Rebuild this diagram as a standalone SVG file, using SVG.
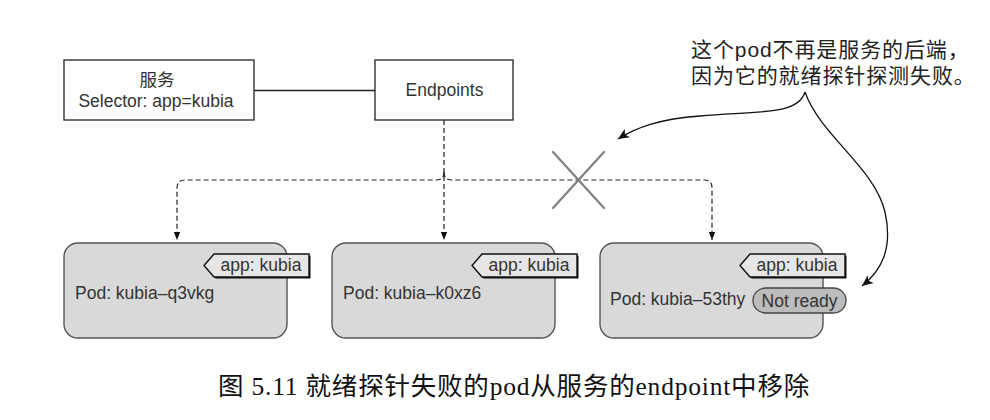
<svg xmlns="http://www.w3.org/2000/svg" width="990" height="420" viewBox="0 0 990 420">
<style>
.t{font-family:"Liberation Sans",Arial,"Noto Sans CJK SC",sans-serif;font-size:17.5px;fill:#333}
.box{fill:#fff;stroke:#222;stroke-width:1.3}
.pod{fill:#d9d9d9;stroke:#555;stroke-width:1.4}
.tag{fill:#e6e6e6;stroke:#111;stroke-width:1.4}
.tagsh{fill:#111}
.pill{fill:#bcbcbc;stroke:#444;stroke-width:1.3}
.dash{fill:none;stroke:#222;stroke-width:1.2;stroke-dasharray:5 3}
.ann{font-family:"Liberation Sans",Arial,"Noto Sans CJK SC",sans-serif;font-size:21px;letter-spacing:0.9px;fill:#222}
.cap{font-family:"Liberation Serif","Times New Roman","Noto Sans CJK SC",serif;font-size:25.5px;letter-spacing:0.8px;fill:#111}
</style>
<defs>
<marker id="ah" viewBox="0 0 8 8" refX="8" refY="4" markerWidth="8" markerHeight="8" markerUnits="userSpaceOnUse" orient="auto">
<path d="M0,0.8 L8,4 L0,7.2 Z" fill="#111"/>
</marker>
<marker id="ah2" viewBox="0 0 10 10" refX="10" refY="5" markerWidth="11" markerHeight="11" markerUnits="userSpaceOnUse" orient="auto">
<path d="M0,0.5 L10,5 L0,9.5 L2.5,5 Z" fill="#111"/>
</marker>
</defs>

<g id="service">
<rect class="box" x="64" y="60" width="190" height="60"/>
<text class="t" x="157" y="86" text-anchor="middle">服务</text>
<text class="t" x="156" y="107" text-anchor="middle">Selector: app=kubia</text>
</g>

<g id="endpoints">
<rect class="box" x="375" y="60" width="138" height="60"/>
<text class="t" x="444.5" y="96" text-anchor="middle">Endpoints</text>
</g>

<g id="pod1">
<rect class="pod" x="64" y="243" width="223" height="95" rx="14"/>
<polygon class="tagsh" points="215.5,255.5 310.5,255.5 310.5,278.5 215.5,278.5 205.5,267"/>
<polygon class="tag" points="214,254 309,254 309,277 214,277 204,265.5"/>
<text class="t" x="261" y="271" text-anchor="middle">app: kubia</text>
<text class="t" x="75" y="299">Pod: kubia–q3vkg</text>
</g>

<g id="pod2">
<rect class="pod" x="332" y="243" width="223" height="95" rx="14"/>
<polygon class="tagsh" points="483.5,255.5 578.5,255.5 578.5,278.5 483.5,278.5 473.5,267"/>
<polygon class="tag" points="482,254 577,254 577,277 482,277 472,265.5"/>
<text class="t" x="529" y="271" text-anchor="middle">app: kubia</text>
<text class="t" x="343" y="299">Pod: kubia–k0xz6</text>
</g>

<g id="pod3">
<rect class="pod" x="600" y="243" width="223" height="95" rx="14"/>
<polygon class="tagsh" points="751.5,255.5 846.5,255.5 846.5,278.5 751.5,278.5 741.5,267"/>
<polygon class="tag" points="750,254 845,254 845,277 750,277 740,265.5"/>
<text class="t" x="797" y="271" text-anchor="middle">app: kubia</text>
<text class="t" x="610" y="305">Pod: kubia–53thy</text>
<rect class="pill" x="753" y="288" width="93" height="25" rx="12.5"/>
<text class="t" x="799.5" y="306.5" text-anchor="middle">Not ready</text>
</g>

<g id="connectors">
<line x1="254" y1="90.5" x2="375" y2="90.5" stroke="#222" stroke-width="1.3"/>
<path class="dash" d="M444,120 V240" marker-end="url(#ah)"/>
<path class="dash" d="M444,172 Q444,180 436,180 H185 Q177,180 177,188 V240" marker-end="url(#ah)"/>
<path class="dash" d="M444,172 Q444,180 452,180 H704 Q712,180 712,188 V240" marker-end="url(#ah)"/>
<g id="cross" stroke="#808080" stroke-width="2.2" stroke-linecap="round">
<line x1="553" y1="152" x2="604" y2="208"/>
<line x1="604" y1="152" x2="553" y2="208"/>
</g>
<path d="M805,92 C798,115 760,111 700,116 C660,119 637,127 618,139" fill="none" stroke="#111" stroke-width="1.3" marker-end="url(#ah2)"/>
<path d="M805,92 C820,135 875,168 885,212 C893,248 882,270 862,286" fill="none" stroke="#111" stroke-width="1.3" marker-end="url(#ah2)"/>
</g>

<g id="annotation">
<text class="ann" x="691" y="57">这个pod不再是服务的后端，</text>
<text class="ann" x="691" y="83">因为它的就绪探针探测失败。</text>
</g>

<text class="cap" x="218" y="395">图 5.11 就绪探针失败的pod从服务的endpoint中移除</text>
</svg>
